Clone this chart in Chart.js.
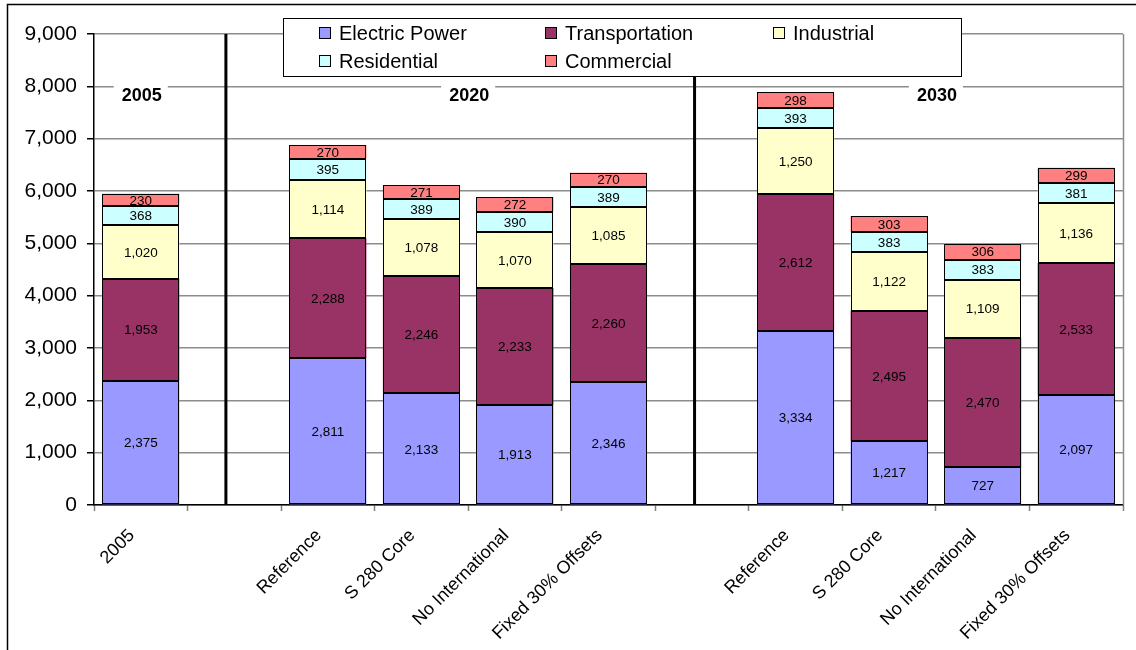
<!DOCTYPE html>
<html>
<head>
<meta charset="utf-8">
<script src="https://cdn.jsdelivr.net/npm/chart.js@4.4.1/dist/chart.umd.min.js"></script>
<style>
  html, body { margin: 0; padding: 0; background: #fff; }
  #wrap { position: relative; width: 1136px; height: 650px; }
  canvas { display: block; }
</style>
</head>
<body>
<div id="wrap"><canvas id="c" width="1136" height="650"></canvas></div>
<script>
// Scenario columns; empty strings are spacer slots between the year groups
const categories = ["2005", "", "Reference", "S 280 Core", "No International", "Fixed 30% Offsets",
                    "", "Reference", "S 280 Core", "No International", "Fixed 30% Offsets"];

// Emissions by sector (stacked bottom to top)
const electricPower  = [2375, null, 2811, 2133, 1913, 2346, null, 3334, 1217,  727, 2097];
const transportation = [1953, null, 2288, 2246, 2233, 2260, null, 2612, 2495, 2470, 2533];
const industrial     = [1020, null, 1114, 1078, 1070, 1085, null, 1250, 1122, 1109, 1136];
const residential    = [ 368, null,  395,  389,  390,  389, null,  393,  383,  383,  381];
const commercial     = [ 230, null,  270,  271,  272,  270, null,  298,  303,  306,  299];

const seriesNames = ["Electric Power", "Transportation", "Industrial", "Residential", "Commercial"];
const seriesColors = ["#9999FF", "#993366", "#FFFFCC", "#CCFFFF", "#FF8080"];

// Year group headings and the category position of each group divider
const groupLabels = [
  { text: "2005", at: 0 },
  { text: "2020", at: 3.5 },
  { text: "2030", at: 8.5 }
];
const dividers = [0.91, 5.92];

const FONT = "'Liberation Sans', Arial, sans-serif";
const fmt = v => v.toLocaleString('en-US');

const seriesData = [electricPower, transportation, industrial, residential, commercial];
const datasets = seriesData.map((d, i) => ({
  label: seriesNames[i],
  data: d,
  backgroundColor: seriesColors[i],
  borderWidth: 0,
  barPercentage: 0.824,
  categoryPercentage: 1.0
}));

const overlay = {
  id: 'overlay',
  beforeDraw(chart) {
    const ctx = chart.ctx;
    ctx.save();
    ctx.fillStyle = '#fff';
    ctx.fillRect(0, 0, chart.width, chart.height);
    ctx.restore();
  },
  afterDatasetsDraw(chart) {
    const ctx = chart.ctx;
    const area = chart.chartArea;
    const xs = chart.scales.x;
    ctx.save();

    // crisp black outline around every segment
    ctx.strokeStyle = "#000";
    ctx.lineWidth = 1;
    chart.data.datasets.forEach((ds, di) => {
      const meta = chart.getDatasetMeta(di);
      meta.data.forEach((el, i) => {
        if (ds.data[i] == null) return;
        const x0 = Math.round(el.x - el.width / 2) + 0.5;
        const x1 = Math.round(el.x + el.width / 2) - 0.5;
        const y0 = Math.round(el.y) + 0.5;
        const y1 = Math.round(el.base) - 0.5;
        ctx.strokeRect(x0, y0, x1 - x0, y1 - y0);
      });
    });

    // value labels centred in each segment
    ctx.font = "13.5px " + FONT;
    ctx.fillStyle = "#000";
    ctx.textAlign = "center";
    ctx.textBaseline = "middle";
    chart.data.datasets.forEach((ds, di) => {
      const meta = chart.getDatasetMeta(di);
      meta.data.forEach((el, i) => {
        const v = ds.data[i];
        if (v == null) return;
        ctx.fillText(fmt(v), el.x, (el.y + el.base) / 2 + 1);
      });
    });

    // plot right border
    ctx.strokeStyle = "#8c8c8c";
    ctx.lineWidth = 1.5;
    ctx.beginPath();
    ctx.moveTo(area.right + 0.5, area.top);
    ctx.lineTo(area.right + 0.5, area.bottom);
    ctx.stroke();

    // group dividers
    ctx.strokeStyle = "#000";
    ctx.lineWidth = 3;
    dividers.forEach(p => {
      const x = xs.getPixelForValue(p);
      ctx.beginPath();
      ctx.moveTo(x, area.top);
      ctx.lineTo(x, area.bottom);
      ctx.stroke();
    });

    // group headings on a white box
    ctx.font = "bold 18px " + FONT;
    groupLabels.forEach(g => {
      const x = xs.getPixelForValue(g.at);
      const w = ctx.measureText(g.text).width + 14;
      const y = chart.scales.y.getPixelForValue(8000);
      ctx.fillStyle = "#fff";
      ctx.fillRect(x - w / 2, y - 2, w, 22);
      ctx.fillStyle = "#000";
      ctx.fillText(g.text, x + 1, y + 10);
    });

    // legend
    const lx = 283, ly = 18, lw = 678, lh = 58;
    ctx.fillStyle = "#fff";
    ctx.fillRect(lx, ly, lw, lh);
    ctx.strokeStyle = "#000";
    ctx.lineWidth = 1;
    ctx.strokeRect(lx + 0.5, ly + 0.5, lw, lh);
    const cols = [319, 545, 773];
    const rows = [33, 61];
    ctx.font = "20px " + FONT;
    ctx.textAlign = "left";
    seriesNames.forEach((name, i) => {
      const cx = cols[i % 3], cy = rows[Math.floor(i / 3)];
      ctx.fillStyle = seriesColors[i];
      ctx.fillRect(cx, cy - 6, 12, 12);
      ctx.strokeStyle = "#000";
      ctx.strokeRect(cx + 0.5, cy - 5.5, 11, 11);
      ctx.fillStyle = "#000";
      ctx.fillText(name, cx + 20, cy + 1);
    });

    // outer frame
    ctx.strokeStyle = "#000";
    ctx.lineWidth = 1.5;
    ctx.beginPath();
    ctx.moveTo(7.5, chart.height);
    ctx.lineTo(7.5, 4.5);
    ctx.lineTo(chart.width, 4.5);
    ctx.stroke();
    ctx.restore();
  }
};

new Chart(document.getElementById('c'), {
  type: 'bar',
  data: { labels: categories, datasets },
  options: {
    responsive: false,
    animation: false,
    layout: { padding: { top: 34, right: 13, left: 0, bottom: 0 } },
    plugins: { legend: { display: false }, tooltip: { enabled: false } },
    scales: {
      x: {
        stacked: true,
        grid: { display: true, drawOnChartArea: false, offset: true, tickLength: 6, color: "#808080", tickWidth: 1.5 },
        border: { display: true, color: "#000", width: 1.5 },
        ticks: {
          color: "#000",
          font: { family: FONT, size: 18 },
          minRotation: 45, maxRotation: 45, autoSkip: false, padding: 14, labelOffset: -9
        },
        afterFit(s) { s.height = 145; }
      },
      y: {
        stacked: true,
        min: 0, max: 9000,
        grid: { color: "#8c8c8c", lineWidth: 1.5, tickLength: 7, tickColor: "#000" },
        border: { display: true, color: "#000", width: 1.5 },
        ticks: {
          stepSize: 1000,
          color: "#000",
          font: { family: FONT, size: 21 },
          padding: 10,
          callback: v => fmt(v)
        },
        afterFit(s) { s.width = 94; }
      }
    }
  },
  plugins: [overlay]
});
</script>
</body>
</html>
